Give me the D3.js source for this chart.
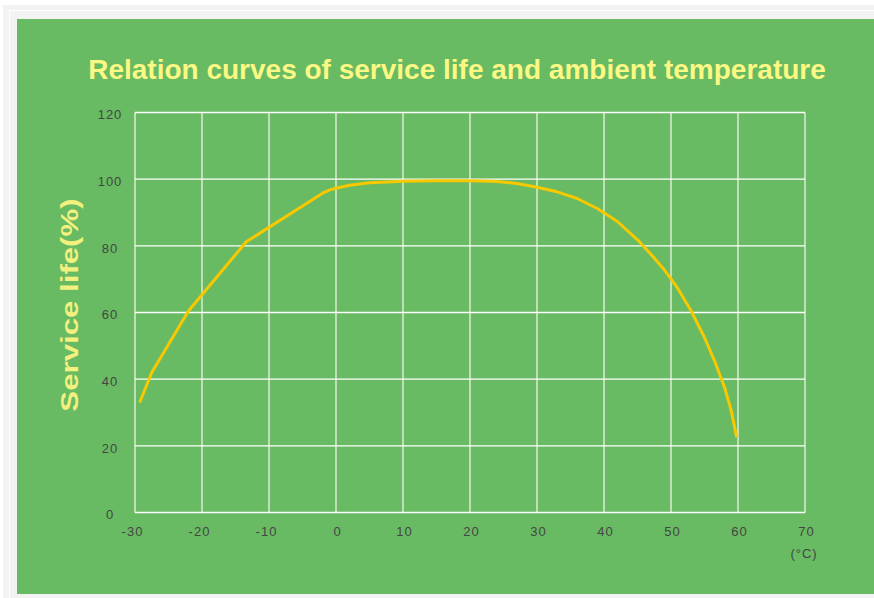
<!DOCTYPE html>
<meta charset="utf-8">
<head>
<title>Service life vs ambient temperature</title>
</head>
<style>
html, body {
  margin: 0;
  overflow: hidden;
  background: #ffffff;
}
.tick text {
  font: 13px "Liberation Sans", Arial, sans-serif;
  letter-spacing: 1px;
  fill: #454545;
}
</style>
<body>
<script src="https://d3js.org/d3.v7.min.js"></script>
<script>

// curve: temperature (°C) -> service life (%)
var temps = [-29.3, -27.5, -22, -13.4, -2, -1, 0, 2, 5, 10, 15, 20, 23, 24, 27, 30, 33, 36, 39, 42, 45, 47, 49, 51, 53, 55, 56.5, 58, 59, 59.8];
var life  = [33, 42, 60.5, 81.2, 95.8, 96.7, 97.3, 98.2, 98.9, 99.4, 99.5, 99.5, 99.4, 99.3, 98.7, 97.6, 96.2, 94.2, 91.2, 87.3, 81.8, 77.5, 72.8, 67.3, 60.5, 52.5, 45.5, 37.5, 30.5, 22.5];

var xTicks = [-30, -20, -10, 0, 10, 20, 30, 40, 50, 60, 70];
var yTicks = [0, 20, 40, 60, 80, 100, 120];

var title = "Relation curves of service life and ambient temperature";
var yTitle = "Service life(%)";
var xUnit = "(°C)";

var width = 874, height = 598;

var svg = d3.select("body").append("svg")
    .attr("width", width)
    .attr("height", height);

// page frame around the green panel
svg.append("rect")
    .attr("x", 3).attr("y", 5)
    .attr("width", width - 3).attr("height", height - 5)
    .attr("fill", "#f3f3f3");
svg.append("rect")
    .attr("x", 9.5).attr("y", 10.5)
    .attr("width", width).attr("height", height)
    .attr("fill", "none")
    .attr("stroke", "#ffffff");
svg.append("rect")
    .attr("x", 17).attr("y", 19)
    .attr("width", width - 17).attr("height", 575)
    .attr("fill", "#68bb62");

var x = d3.scaleLinear().domain([-30, 70]).range([135, 805]);
var y = d3.scaleLinear().domain([0, 120]).range([512.5, 112.5]);

// grid
var grid = svg.append("g");
grid.selectAll("line.v")
    .data(xTicks)
    .enter().append("line")
    .attr("class", "v")
    .attr("x1", function (d) { return x(d); })
    .attr("x2", function (d) { return x(d); })
    .attr("y1", y(0))
    .attr("y2", y(120))
    .attr("stroke", "#e4eedd")
    .attr("stroke-width", 1.4);
grid.selectAll("line.h")
    .data(yTicks)
    .enter().append("line")
    .attr("class", "h")
    .attr("x1", x(-30))
    .attr("x2", x(70))
    .attr("y1", function (d) { return y(d); })
    .attr("y2", function (d) { return y(d); })
    .attr("stroke", "#ffffff")
    .attr("stroke-width", 1.4);

// axes (labels only, the grid draws the lines)
var xAxis = d3.axisBottom(x).tickValues(xTicks).tickSize(0).tickPadding(14)
    .tickFormat(function (d) { return String(d); });
svg.append("g")
    .attr("transform", "translate(0," + y(0) + ")")
    .call(xAxis)
    .call(function (g) { g.select(".domain").remove(); })
    .selectAll("text")
    .attr("dx", function (d) { return d < 0 ? -3 : 1; });

var yAxis = d3.axisLeft(y).tickValues(yTicks).tickSize(0).tickPadding(0);
svg.append("g")
    .attr("transform", "translate(110,2)")
    .call(yAxis)
    .call(function (g) { g.select(".domain").remove(); })
    .selectAll("text")
    .attr("text-anchor", "middle");

svg.append("text")
    .attr("x", x(70) - 1)
    .attr("y", 558)
    .attr("text-anchor", "middle")
    .style("font", "13px 'Liberation Sans', Arial, sans-serif")
    .style("letter-spacing", "1px")
    .attr("fill", "#454545")
    .text(xUnit);

// the curve
var line = d3.line()
    .x(function (d, i) { return x(temps[i]); })
    .y(function (d) { return y(d); });

svg.append("path")
    .datum(life)
    .attr("d", line)
    .attr("fill", "none")
    .attr("stroke", "#f8c800")
    .attr("stroke-width", 3)
    .attr("stroke-linejoin", "round");

// titles
svg.append("text")
    .attr("x", 457)
    .attr("y", 79)
    .attr("text-anchor", "middle")
    .style("font", "bold 28px 'Liberation Sans', Arial, sans-serif")
    .attr("fill", "#fbf884")
    .text(title);

svg.append("text")
    .attr("transform", "translate(78,305) rotate(-90) scale(1.3,1)")
    .attr("text-anchor", "middle")
    .style("font", "bold 24px 'Liberation Sans', Arial, sans-serif")
    .attr("fill", "#f2f07e")
    .text(yTitle);

</script>
</body>
